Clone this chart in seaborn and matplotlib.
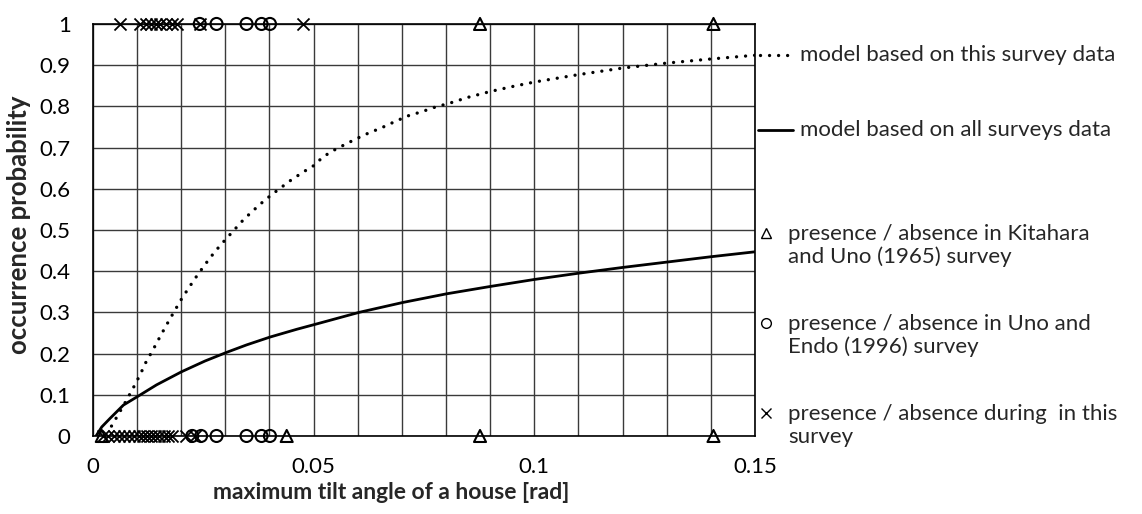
import numpy as np
import pandas as pd
import seaborn as sns
import matplotlib
matplotlib.use("Agg")
import matplotlib.pyplot as plt
from matplotlib.lines import Line2D
from matplotlib.ticker import MultipleLocator, FuncFormatter

sns.set_theme(style="white")
FONT = ["Lato", "DejaVu Sans"]
plt.rcParams["font.family"] = FONT

# Model curves: occurrence probability vs maximum tilt angle [rad]
model_survey_x = [0.0042, 0.0060, 0.0075, 0.0091, 0.0107, 0.0120, 0.0137, 0.0152, 0.0168,
                  0.0184, 0.0201, 0.0218, 0.0237, 0.0256, 0.0276, 0.0298, 0.0320, 0.0342,
                  0.0366, 0.0390, 0.0420, 0.0450, 0.0480, 0.0500, 0.0522, 0.0550, 0.0594,
                  0.0624, 0.0654, 0.0684, 0.0714, 0.0745, 0.0775, 0.0809, 0.0850, 0.0900,
                  0.0950, 0.1000, 0.1100, 0.1200, 0.1300, 0.1400, 0.1500]
model_survey_y = [0.024, 0.057, 0.085, 0.116, 0.149, 0.179, 0.211, 0.241, 0.272,
                  0.302, 0.333, 0.361, 0.391, 0.419, 0.447, 0.474, 0.500, 0.526,
                  0.550, 0.573, 0.598, 0.622, 0.643, 0.656, 0.678, 0.696, 0.720,
                  0.735, 0.748, 0.763, 0.777, 0.787, 0.798, 0.808, 0.822, 0.836,
                  0.848, 0.859, 0.877, 0.893, 0.905, 0.915, 0.924]

model_all_x = [0.0007, 0.0020, 0.0039, 0.0069, 0.0103, 0.0144, 0.0201, 0.0254, 0.0303,
               0.0348, 0.0401, 0.0462, 0.0514, 0.0603, 0.0702, 0.0801, 0.0901, 0.1001,
               0.1100, 0.1200, 0.1300, 0.1400, 0.1500]
model_all_y = [0.000, 0.022, 0.043, 0.075, 0.097, 0.124, 0.156, 0.182, 0.203,
               0.221, 0.240, 0.259, 0.274, 0.300, 0.324, 0.345, 0.363, 0.380,
               0.395, 0.409, 0.422, 0.435, 0.447]

# Observations (1 = presence, 0 = absence)
kitahara_x = [0.0877, 0.1406, 0.0020, 0.0439, 0.0877, 0.1406]
kitahara_y = [1, 1, 0, 0, 0, 0]

uno_endo_x = [0.0242, 0.0280, 0.0348, 0.0382, 0.0401,
              0.0225, 0.0245, 0.0280, 0.0348, 0.0382, 0.0401]
uno_endo_y = [1, 1, 1, 1, 1,
              0, 0, 0, 0, 0, 0]

this_survey_x = [0.0061, 0.0107, 0.0120, 0.0131, 0.0142, 0.0153, 0.0165, 0.0178, 0.0190,
                 0.0242, 0.0477,
                 0.0023, 0.0035, 0.0047, 0.0058, 0.0070, 0.0082, 0.0094, 0.0104, 0.0113,
                 0.0122, 0.0131, 0.0140, 0.0150, 0.0160, 0.0170, 0.0180, 0.0210, 0.0232]
this_survey_y = [1, 1, 1, 1, 1, 1, 1, 1, 1,
                 1, 1,
                 0, 0, 0, 0, 0, 0, 0, 0, 0,
                 0, 0, 0, 0, 0, 0, 0, 0, 0]

x_ticks = [0, 0.05, 0.1, 0.15]
x_tick_labels = ["0", "0.05", "0.1", "0.15"]
y_ticks = [0, 0.1, 0.2, 0.3, 0.4, 0.5, 0.6, 0.7, 0.8, 0.9, 1.0]
y_tick_labels = ["0", "0.1", "0.2", "0.3", "0.4", "0.5", "0.6", "0.7", "0.8", "0.9", "1"]

label_survey = "model based on this survey data"
label_all = "model based on all surveys data"
label_kitahara = "presence / absence in Kitahara\nand Uno (1965) survey"
label_uno = "presence / absence in Uno and\nEndo (1996) survey"
label_this = "presence / absence during  in this\nsurvey"

fig = plt.figure(figsize=(11.42, 5.14), dpi=100)
ax = fig.add_axes([0.0814, 0.1518, 0.5797, 0.8016])

dotted = (0, (0.01, 2.7))
ms = 75
fs = 16

sns.lineplot(x=model_survey_x, y=model_survey_y, ax=ax, color="black", lw=2.4,
             linestyle=dotted, dash_capstyle="round", sort=False, zorder=3)
sns.lineplot(x=model_all_x, y=model_all_y, ax=ax, color="black", lw=2.0,
             sort=False, zorder=3)

sns.scatterplot(x=kitahara_x, y=kitahara_y, ax=ax, marker="^", s=ms,
                facecolor="none", edgecolor="black", linewidth=1.5, zorder=4, clip_on=False)
sns.scatterplot(x=uno_endo_x, y=uno_endo_y, ax=ax, marker="o", s=ms,
                facecolor="none", edgecolor="black", linewidth=1.5, zorder=4, clip_on=False)
sns.scatterplot(x=this_survey_x, y=this_survey_y, ax=ax, marker="x", s=ms,
                color="black", linewidth=1.3, zorder=4, clip_on=False)

ax.set_xlim(0, 0.15)
ax.set_ylim(0, 1)
ax.xaxis.set_major_locator(MultipleLocator(0.01))
ax.set_yticks(y_ticks)
ax.set_yticklabels(y_tick_labels)
lab_map = dict(zip(x_ticks, x_tick_labels))


def xfmt(v, pos):
    for k, s in lab_map.items():
        if abs(v - k) < 1e-6:
            return s
    return ""


ax.xaxis.set_major_formatter(FuncFormatter(xfmt))
ax.grid(True, color="#3a3a3a", lw=1.0)
ax.set_axisbelow(True)
for sp in ax.spines.values():
    sp.set_color("black")
    sp.set_linewidth(1.2)
ax.tick_params(axis="both", length=0, labelsize=fs, colors="black")
ax.tick_params(axis="x", pad=15)
ax.tick_params(axis="y", pad=16)
ax.set_xlabel("maximum tilt angle of a house [rad]", fontsize=16.5, fontweight="bold")
ax.xaxis.set_label_coords(0.45, -0.136)
ax.xaxis.label.set_va("center")
ax.set_ylabel("occurrence probability", fontsize=18.5, fontweight="bold")
ax.yaxis.set_label_coords(-0.112, 0.513)
ax.yaxis.label.set_va("center")


# Legend drawn to the right of the plot
def fx(px):
    return px / 1142


def fy(py):
    return 1 - py / 514


fig.add_artist(Line2D([fx(760), fx(793)], [fy(55), fy(55)], color="black", lw=2.4,
                      linestyle=dotted, dash_capstyle="round"))
fig.text(fx(800), fy(55), label_survey, fontsize=fs, va="center", ha="left")
fig.add_artist(Line2D([fx(758), fx(793)], [fy(130), fy(130)], color="black", lw=2.0))
fig.text(fx(800), fy(130), label_all, fontsize=fs, va="center", ha="left")

for py, mk, lab in [(233, "^", label_kitahara), (323, "o", label_uno), (413, "x", label_this)]:
    if mk == "x":
        fig.add_artist(Line2D([fx(766)], [fy(py)], marker=mk, color="black", ms=7, mew=1.0))
    else:
        fig.add_artist(Line2D([fx(766)], [fy(py)], marker=mk, color="black", ms=7,
                              mfc="none", mew=1.0))
    fig.text(fx(788), fy(py - 9), lab, fontsize=fs, va="top", ha="left", linespacing=1.16)

fig.savefig("out.png", dpi=100)
